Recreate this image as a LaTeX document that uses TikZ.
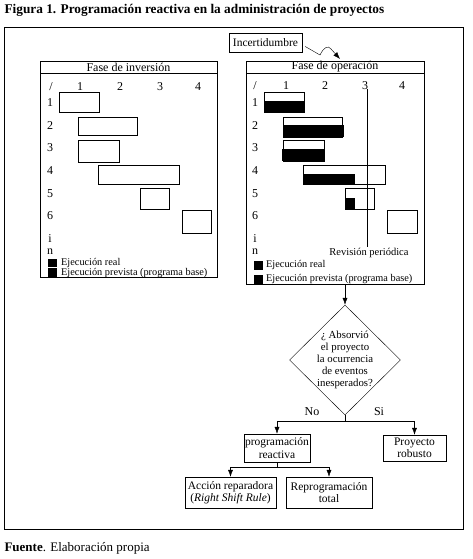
\documentclass[tikz,border=0pt]{standalone}
\usepackage{fontspec}
\setmainfont{Liberation Serif}
\usepackage{tikz}
\usetikzlibrary{arrows.meta, positioning, shapes.geometric}
\tikzset{%
	every box/.style={
		draw,
		align=center,
		inner sep=1pt,
		font=\fontsize{11.5}{12.5}\selectfont
	},
	panel/.style={
		draw,
		anchor=north west,
		inner sep=0pt
	},
	legend/.style={
		anchor=west,
		inner sep=0pt,
		font=\fontsize{10.3}{11}\selectfont
	},
	rowlabel/.style={inner sep=0pt},
	bar/.style={draw, fill=white},
	done/.style={fill=black},
	arr/.style={-{Latex[length=7pt,width=5pt]}},
}

\begin{document}
\begin{tikzpicture}[x=1pt,y=-1pt,font=\fontsize{12}{13}\selectfont]
	\useasboundingbox (0,0) rectangle (473,559);
	
	% Title and source
	\node[anchor=west, font=\fontsize{13.3}{14}\selectfont\bfseries] (title) at (1,10) {Figura 1. Programación reactiva en la administración de proyectos};
	\node[anchor=west, font=\fontsize{13}{14}\selectfont] (fuente) at (1,548) {\textbf{Fuente}. Elaboración propia};
	
	% Outer frame
	\draw (4,27) rectangle (463,529);
	
	% Draw the left panel
	\node[panel, minimum width=177, minimum height=216] (inv) at (40,61) {};
	\draw (40,73) -- (217,73);
	\node at (128.5,67) {Fase de inversión};
	\node at (51,87) {/};
	\node at (80,87) {1};
	\node at (120,87) {2};
	\node at (160,87) {3};
	\node at (198,87) {4};
	\foreach \r/\y in {1/103, 2/126, 3/148, 4/171, 5/194, 6/216, i/239, n/251.5}
		\node[rowlabel] at (50,\y) {\r};
	
	% Bars of the base programme
	\draw[bar] (59,92) rectangle (99,112);
	\draw[bar] (78,117) rectangle (137,135);
	\draw[bar] (78,140) rectangle (119,162);
	\draw[bar] (98,165) rectangle (179,184);
	\draw[bar] (140,188) rectangle (169,209);
	\draw[bar] (182,210) rectangle (211,233);
	
	% Legend left
	\fill[black] (48,259) rectangle (57,267);
	\fill[black] (48,268) rectangle (57,277);
	\node[legend] at (61,263) {Ejecución real};
	\node[legend] at (61,273) {Ejecución prevista (programa base)};
	
	% Draw the right panel
	\node[panel, minimum width=178, minimum height=223] (oper) at (246,61) {};
	\draw (246,73) -- (424,73);
	\node at (335,67) {Fase de operación};
	\node at (255,86) {/};
	\node at (286,86) {1};
	\node at (325,86) {2};
	\node at (365,86) {3};
	\node at (402,86) {4};
	\foreach \r/\y in {1/103, 2/126, 3/148, 4/171, 5/194, 6/216, i/239, n/251.5}
		\node[rowlabel] at (255,\y) {\r};
	
	% Planned and real execution
	\draw[bar] (264,92) rectangle (304,112);
	\fill[done] (264,101) rectangle (304,112);
	\draw[bar] (283,117) rectangle (342,137);
	\fill[done] (283,125) rectangle (344,137);
	\draw[bar] (283,140) rectangle (324,161);
	\fill[done] (282,149) rectangle (325,161);
	\draw[bar] (303,165) rectangle (385,184);
	\fill[done] (303,174) rectangle (355,184);
	\draw[bar] (345,188) rectangle (374,209);
	\fill[done] (345,198) rectangle (355,209);
	\draw[bar] (387,210) rectangle (417,233);
	
	% Periodic review
	\draw (367,89) -- (367,247);
	\node[font=\fontsize{10.5}{12}\selectfont] (rev) at (369,253) {Revisión periódica};
	
	% Legend right
	\fill[black] (254,261) rectangle (263,270);
	\fill[black] (254,275) rectangle (263,284);
	\node[legend] at (266,265) {Ejecución real};
	\node[legend] at (266,279) {Ejecución prevista (programa base)};
	
	% Uncertainty
	\node[every box, minimum width=73, minimum height=19] (inc) at (265.5,42.5) {Incertidumbre};
	\coordinate (hit) at (340,59);
	\draw[arr] (inc.east) ++(3,4) -- (320,55) .. controls (324,47) and (328,45) .. (331,49) -- (hit);
	
	% Decision
	\node[diamond, draw, minimum width=111, minimum height=110, inner sep=0pt] (q) at (345,360) {};
	\node[align=center, font=\fontsize{10.8}{12}\selectfont] (qtext) at (q.center) {¿ Absorvió\\el proyecto\\la ocurrencia\\de eventos\\inesperados?};
	\draw[arr] (oper.south -| q.north) -- (q.north);
	
	% Outcomes
	\node[every box, minimum width=66, minimum height=28] (reac) at (277,448) {programación\\reactiva};
	\node[every box, minimum width=63, minimum height=26] (rob) at (414.5,448) {Proyecto\\robusto};
	\draw (q.south) -- ++(0,6) coordinate (split);
	\draw[arr] (split) -| (reac.north);
	\draw[arr] (split) -| (rob.north);
	\node (no) at (312,412) {No};
	\node (si) at (379,412) {Si};
	
	% Repair actions
	\node[every box, minimum width=91, minimum height=31] (rep) at (230.5,492.5) {Acción reparadora\\(\textit{Right Shift Rule})};
	\node[every box, minimum width=86, minimum height=31] (total) at (329,492.5) {Reprogramación\\total};
	\draw (reac.south) -- ++(0,5) coordinate (fork);
	\draw[arr] (fork) -| (rep.north);
	\draw[arr] (fork) -| (total.north);
	
\end{tikzpicture}
\end{document}
